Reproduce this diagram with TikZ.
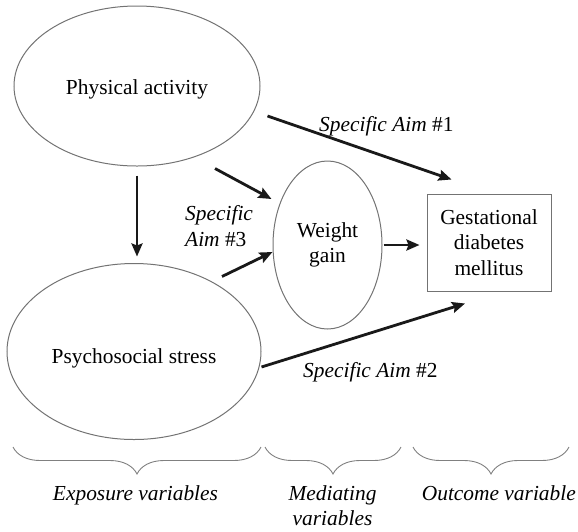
\documentclass[tikz,border=0pt]{standalone}
\usepackage{fontspec}
\setmainfont{Liberation Serif}
\usetikzlibrary{arrows.meta,shapes.geometric,calc,decorations.pathreplacing}

\begin{document}
\begin{tikzpicture}[x=1pt,y=-1pt,
  lbl/.style={font=\fontsize{21.4pt}{25.5pt}\selectfont, inner sep=0pt},
  oval/.style={lbl, ellipse, draw=black!55, line width=1pt},
  boxnode/.style={lbl, rectangle, draw=black!55, line width=1pt, align=center},
  arr/.style={line width=2.8pt, draw=black!90,
    -{Stealth[length=13pt,width=11pt,inset=2pt]}},
  brc/.style={draw=black!50, line width=0.9pt, decorate,
    decoration={brace, mirror, amplitude=27pt}}]

  % page frame
  \useasboundingbox (0,0) rectangle (578,531);

  % variables
  \node[oval, minimum width=246pt, minimum height=160pt,
        text height=21pt, text depth=5pt] (pa) at (137,86) {Physical activity};
  \node[oval, minimum width=254pt, minimum height=176pt,
        text height=28pt, text depth=5pt] (ps) at (134,351.5) {Psychosocial stress};
  \node[oval, minimum width=109pt, minimum height=168pt, align=center]
        (wg) at (327.5,245) {Weight\\gain};
  \node[boxnode, minimum width=124pt, minimum height=97pt]
        (gdm) at (489,242.5) {Gestational\\diabetes\\mellitus};

  % paths between variables
  \draw[arr] ($(pa.east)+(7,30)$) -- ($(gdm.north west)+(25,-14)$);
  \draw[arr] ($(pa.south)+(78,2)$) -- ($(wg.west)+(-1,-46)$);
  \draw[arr] ($(pa.south)+(0,9)$) -- ($(ps.north)+(3,-6.5)$);
  \draw[arr] ($(ps.north)+(88,13.5)$) -- ($(wg.west)+(0,7)$);
  \draw[arr] ($(wg.east)+(1,0)$) -- ($(gdm.west)+(-7,2.5)$);
  \draw[arr] ($(ps.east)+(0,15.5)$) -- ($(gdm.south)+(-24,12)$);

  % aim labels
  \node[lbl, anchor=base west] (aim1) at (319,131) {\textit{Specific Aim} \#1};
  \node[lbl, anchor=base west] (aim2) at (303,377) {\textit{Specific Aim} \#2};
  \node[lbl, anchor=north west, align=left] (aim3) at (185,205.4)
        {\textit{Specific}\\\textit{Aim} \#3};

  % grouping braces
  \draw[brc] (13,447) -- (261,447);
  \draw[brc] (265,447) -- (401,447);
  \draw[brc] (413,447) -- (569,447);

  % group labels
  \node[lbl, anchor=base] (expo) at (135.5,500) {\textit{Exposure variables}};
  \node[lbl, anchor=north, align=center] (medi) at (332.5,485.4)
        {\textit{Mediating}\\\textit{variables}};
  \node[lbl, anchor=base east] (outc) at (576,500) {\textit{Outcome variable}};
\end{tikzpicture}
\end{document}
